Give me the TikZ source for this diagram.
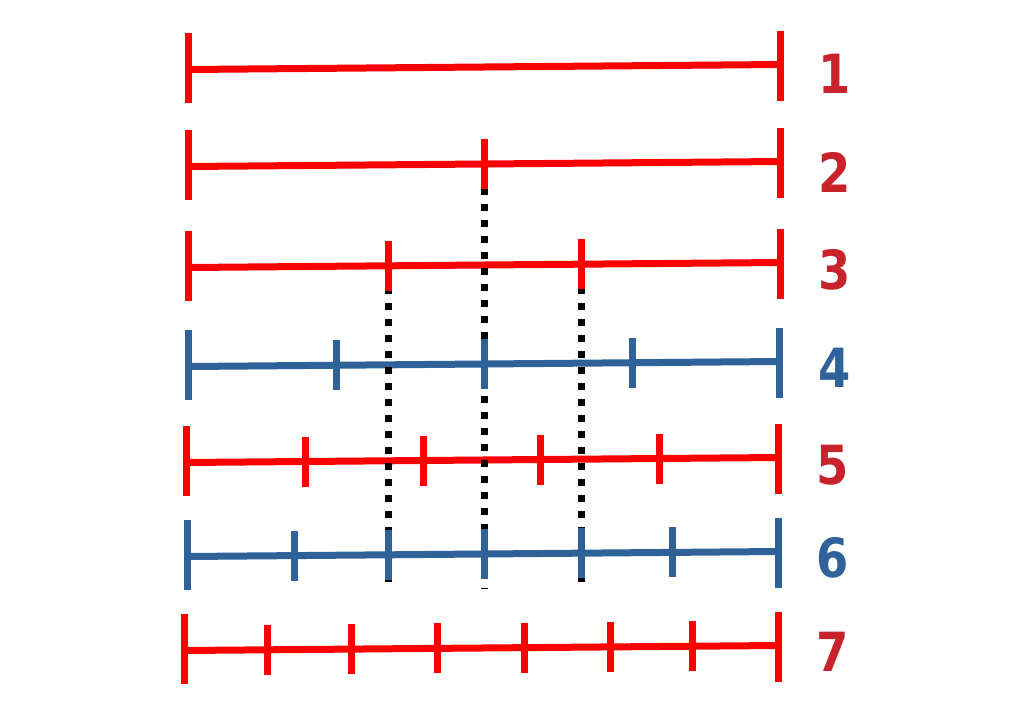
\documentclass[tikz,border=0pt]{standalone}
\usepackage{fontspec}
\setmainfont{DejaVu Sans}
\newfontfamily\numfont[FakeStretch=0.86]{DejaVu Sans Bold}
\definecolor{segred}{HTML}{FF0000}
\definecolor{segblue}{HTML}{2E6299}
\definecolor{numred}{HTML}{C8232B}

\begin{document}
\begin{tikzpicture}[x=0.5pt,y=-0.5pt,
    seg/.style={line width=3.5pt},
    guide/.style={black, line width=3.5pt, dash pattern=on 3.5pt off 4.5pt},
    num/.style={inner sep=0pt, font=\numfont\fontsize{27}{27}\selectfont}]
    \useasboundingbox (0,0) rectangle (1024,724);
    % 每一行: 主线 + 两端的长刻度
    \foreach \y/\l/\r/\c in {67/188/780/segred, 164/188/780/segred, 265/188/780/segred, 364/188/779/segblue, 460/186/778/segred, 554/187/778/segblue, 648/184/778/segred}{
      \draw[seg,\c] (\l,\y+2.5) -- (\r,\y-2.5);
      \draw[seg,\c] (\l,\y+1-35) -- (\l,\y+1+35);
      \draw[seg,\c] (\r,\y-1-35) -- (\r,\y-1+35);
    }
    % 虚线 (对齐的分点)
    \coordinate (top2) at (484,172);
    \coordinate (bot2) at (484,589);
    \coordinate (top3a) at (388,287);
    \coordinate (bot3a) at (388,582);
    \coordinate (top3b) at (581,287);
    \coordinate (bot3b) at (581,582);
    \draw[guide] (top2) -- (bot2);
    \draw[guide] (top3a) -- (bot3a);
    \draw[guide] (top3b) -- (bot3b);
    % 中间的短刻度
    \foreach \y/\l/\r/\c/\ts in {164/188/780/segred/{484}, 265/188/780/segred/{388,581}, 364/188/779/segblue/{336,484,632}, 460/186/778/segred/{305,423,540,659}, 554/187/778/segblue/{294,388,484,581,672}, 648/184/778/segred/{267,351,437,524,610,692}}{
      \foreach \x in \ts
        \draw[seg,\c] (\x,{\y+2.5-5*(\x-\l)/(\r-\l)-25}) -- ++(0,50);
    }
    % 编号
    \node[num, text=numred] (n1) at (835,74) {1};
    \node[num, text=numred] (n2) at (835,172) {2};
    \node[num, text=numred] (n3) at (835,270) {3};
    \node[num, text=segblue] (n4) at (835,368) {4};
    \node[num, text=numred] (n5) at (833,465) {5};
    \node[num, text=segblue] (n6) at (833,558) {6};
    \node[num, text=numred] (n7) at (833,652) {7};
\end{tikzpicture}
\end{document}
